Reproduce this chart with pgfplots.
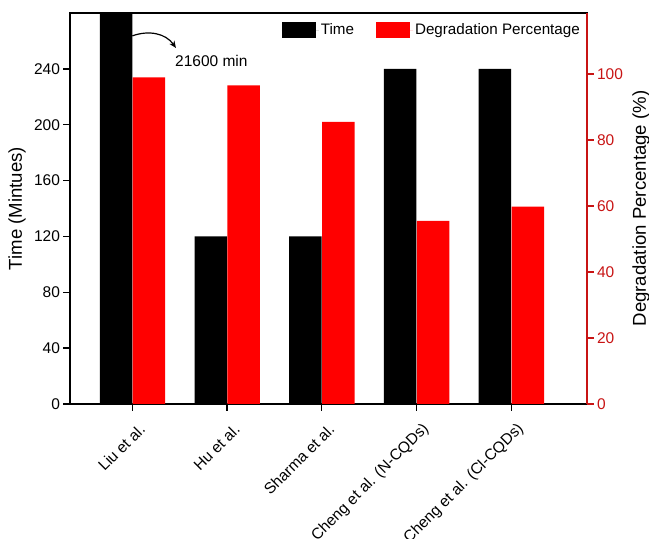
\documentclass[border=0pt]{standalone}
\usepackage{fontspec}
\setmainfont{Liberation Sans}
\usepackage{pgfplots}
\pgfplotsset{compat=1.18}
\usetikzlibrary{arrows.meta}
\definecolor{axred}{RGB}{200,20,20}
\definecolor{barred}{RGB}{255,0,0}
\pgfplotsset{sqleg/.style={legend image code/.code={\fill[##1] (0bp,-8bp) rectangle (34bp,8bp); \path (0bp,0bp) -- (37bp,0bp);}}}
\begin{document}
\begin{tikzpicture}
\useasboundingbox (-70bp,-135bp) rectangle (579bp,404bp);
\begin{axis}[
  at={(0bp,0bp)}, anchor=south west, scale only axis,
  width=517bp, height=391bp,
  xmin=-0.658, xmax=4.80, ymin=0, ymax=280,
  axis line style={line width=1.6bp},
  tick align=outside, xtick pos=bottom, ytick pos=left,
  major tick length=6.5bp, tick style={line width=1.3bp, black},
  xtick={0,1,2,3,4},
  xticklabels={Liu et al., Hu et al., Sharma et al., Cheng et al. (N-CQDs), Cheng et al. (Cl-CQDs)},
  ytick={0,40,...,240},
  /pgf/number format/assume math mode=true,
  tick label style={font=\fontsize{15.5bp}{18bp}\selectfont},
  xticklabel style={xshift=10bp, yshift=-16bp, rotate=45, anchor=east, inner sep=0pt},
  ylabel={Time (Mintues)},
  ylabel style={font=\fontsize{18.6bp}{22bp}\selectfont, at={(axis description cs:-0.1025,0.5)}, anchor=center},
]
\addplot[ybar, bar width=0.343, bar shift=-0.172, fill=black, draw=none] coordinates {(0,300) (1,120) (2,120) (3,240) (4,240)};
\draw[-{Stealth[length=7bp,width=6bp]}, line width=1.2bp] (axis cs:0,263.6) to[out=20,in=125] (axis cs:0.46,255);
\node[anchor=west, inner sep=0pt, font=\fontsize{15.5bp}{18bp}\selectfont] at (axis cs:0.45,246) {21600 min};
\end{axis}
\begin{axis}[
  at={(0bp,0bp)}, anchor=south west, scale only axis,
  width=517bp, height=391bp,
  xmin=-0.658, xmax=4.80, ymin=0, ymax=118.5,
  axis x line=none, axis y line*=right,
  y axis line style={line width=1.6bp, axred, -},
  ytick={0,20,...,100}, tick align=outside, major tick length=6.5bp,
  ytick style={line width=1.3bp, axred},
  /pgf/number format/assume math mode=true,
  yticklabel style={text=axred, font=\fontsize{15.5bp}{18bp}\selectfont},
  ylabel={Degradation Percentage (\%)},
  ylabel style={font=\fontsize{18.6bp}{22bp}\selectfont, at={(axis description cs:1.1044,0.5)}, anchor=center, black},
  ybar, sqleg,
  legend columns=2, legend cell align=left,
  legend style={at={(axis description cs:1,1)}, anchor=north east, draw=none, fill=none,
    xshift=-2bp, yshift=-6.7bp, font=\fontsize{15.2bp}{18bp}\selectfont,
    /tikz/every even column/.append style={column sep=20bp}},
]
\addlegendimage{fill=black, draw=none}
\addlegendentry{Time}
\addplot[ybar, sqleg, bar width=0.343, bar shift=0.175, fill=barred, draw=none] coordinates {(0,99) (1,96.6) (2,85.5) (3,55.5) (4,59.8)};
\addlegendentry{Degradation Percentage}
\end{axis}
\end{tikzpicture}
\end{document}
